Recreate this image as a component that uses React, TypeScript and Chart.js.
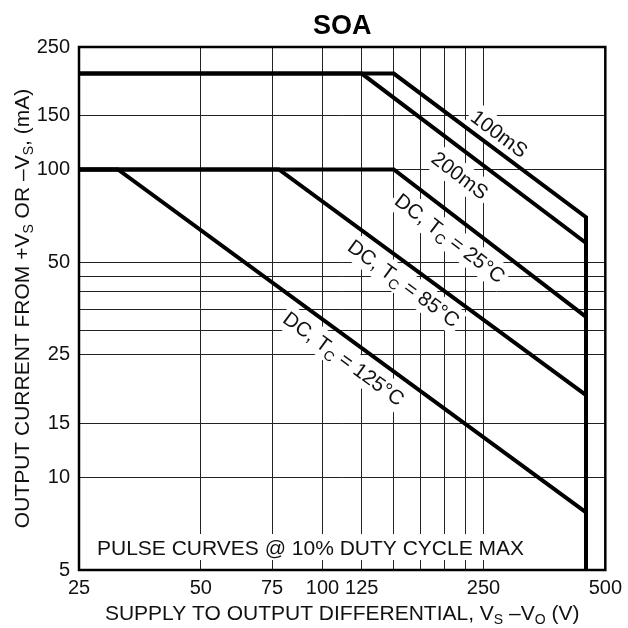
import React, { useEffect, useRef } from "react";
import { Chart, registerables } from "chart.js";

Chart.register(...registerables);

const FONT = '"Liberation Sans", Arial, Helvetica, sans-serif';

// Axis grid / tick values
const xGridValues = [25, 50, 75, 100, 125, 150, 175, 200, 225, 250, 500];
const xTickLabels = [25, 50, 75, 100, 125, 250, 500];
const yGridValues = [5, 10, 15, 25, 30, 35, 40, 45, 50, 100, 150, 250];
const yTickLabels = [5, 10, 15, 25, 50, 100, 150, 250];

// Curves: supply-to-output differential (V) vs output current (mA)
const pulse100V = [25, 150, 448, 448];
const pulse100I = [205, 205, 70, 5];
const pulse200V = [25, 125, 448];
const pulse200I = [205, 205, 57.7];
const dc25V = [25, 150, 448];
const dc25I = [100, 100, 33.2];
const dc85V = [25, 78, 448];
const dc85I = [100, 100, 18.5];
const dc125V = [25, 31.2, 448];
const dc125I = [100, 100, 7.7];

type Seg = { t: string; sub?: boolean };

// Curve annotations (anchor in data units, angle follows the curve's sloped segment)
const curveLabels: { segs: Seg[]; at: [number, number]; v: number[]; i: number[] }[] = [
  { segs: [{ t: "100mS" }], at: [274, 131], v: pulse100V, i: pulse100I },
  { segs: [{ t: "200mS" }], at: [219, 96], v: pulse200V, i: pulse200I },
  { segs: [{ t: "DC, T" }, { t: "C", sub: true }, { t: " = 25°C" }], at: [207, 60], v: dc25V, i: dc25I },
  { segs: [{ t: "DC, T" }, { t: "C", sub: true }, { t: " = 85°C" }], at: [159, 42.8], v: dc85V, i: dc85I },
  { segs: [{ t: "DC, T" }, { t: "C", sub: true }, { t: " = 125°C" }], at: [113, 24.4], v: dc125V, i: dc125I },
];

const titleText = "SOA";
const noteText = "PULSE CURVES @ 10% DUTY CYCLE MAX";
const xTitle: Seg[] = [
  { t: "SUPPLY TO OUTPUT DIFFERENTIAL, V" },
  { t: "S", sub: true },
  { t: " \u2013V" },
  { t: "O", sub: true },
  { t: " (V)" },
];
const yTitle: Seg[] = [
  { t: "OUTPUT CURRENT FROM +V" },
  { t: "S", sub: true },
  { t: " OR \u2013V" },
  { t: "S", sub: true },
  { t: ", (mA)" },
];

function drawRich(
  ctx: CanvasRenderingContext2D,
  segs: Seg[],
  cx: number,
  cy: number,
  angle: number,
  size: number,
  bg: boolean
) {
  ctx.save();
  ctx.translate(cx, cy);
  ctx.rotate(angle);
  const main = `${size}px ${FONT}`;
  const sub = `${Math.round(size * 0.68)}px ${FONT}`;
  let total = 0;
  const widths = segs.map((s) => {
    ctx.font = s.sub ? sub : main;
    const w = ctx.measureText(s.t).width;
    total += w;
    return w;
  });
  if (bg) {
    ctx.fillStyle = "#fff";
    ctx.fillRect(-total / 2 - 3, -size * 0.62, total + 6, size * 1.32);
  }
  ctx.fillStyle = "#111";
  ctx.textBaseline = "alphabetic";
  ctx.textAlign = "left";
  let x = -total / 2;
  segs.forEach((s, k) => {
    ctx.font = s.sub ? sub : main;
    ctx.fillText(s.t, x, s.sub ? size * 0.36 + size * 0.22 : size * 0.36);
    x += widths[k];
  });
  ctx.restore();
}

const pts = (v: number[], i: number[]) => v.map((x, k) => ({ x, y: i[k] }));

const decorPlugin = {
  id: "decor",
  beforeDatasetsDraw(chart: any) {
    const ctx: CanvasRenderingContext2D = chart.ctx;
    const xs = chart.scales.x;
    const ys = chart.scales.y;
    const a = chart.chartArea;
    curveLabels.forEach((l) => {
      const p1x = xs.getPixelForValue(l.v[1]);
      const p1y = ys.getPixelForValue(l.i[1]);
      const p2x = xs.getPixelForValue(l.v[2]);
      const p2y = ys.getPixelForValue(l.i[2]);
      const ang = Math.atan2(p2y - p1y, p2x - p1x);
      drawRich(ctx, l.segs, xs.getPixelForValue(l.at[0]), ys.getPixelForValue(l.at[1]), ang, 20.5, true);
    });
    // pulse note
    ctx.save();
    ctx.font = `21px ${FONT}`;
    const w = ctx.measureText(noteText).width;
    ctx.fillStyle = "#fff";
    ctx.fillRect(a.left + 14, a.bottom - 36, w + 8, 26);
    ctx.fillStyle = "#111";
    ctx.textBaseline = "alphabetic";
    ctx.fillText(noteText, a.left + 18, a.bottom - 15);
    ctx.restore();
  },
  afterDatasetsDraw(chart: any) {
    const ctx: CanvasRenderingContext2D = chart.ctx;
    const a = chart.chartArea;
    ctx.save();
    ctx.strokeStyle = "#000";
    ctx.lineWidth = 2.5;
    ctx.strokeRect(a.left, a.top, a.right - a.left, a.bottom - a.top);
    ctx.restore();
  },
  afterDraw(chart: any) {
    const ctx: CanvasRenderingContext2D = chart.ctx;
    const a = chart.chartArea;
    const cx = (a.left + a.right) / 2;
    ctx.save();
    ctx.font = `bold 27px ${FONT}`;
    ctx.fillStyle = "#000";
    ctx.textAlign = "center";
    ctx.textBaseline = "alphabetic";
    ctx.fillText(titleText, cx, 34);
    ctx.restore();
    drawRich(ctx, xTitle, cx, 612, 0, 21, false);
    drawRich(ctx, yTitle, 21, (a.top + a.bottom) / 2, -Math.PI / 2, 21, false);
  },
};

export default function App() {
  const ref = useRef<HTMLCanvasElement | null>(null);
  useEffect(() => {
    if (!ref.current) return;
    const ds = (v: number[], i: number[]) => ({
      data: pts(v, i),
      showLine: true,
      borderColor: "#000",
      backgroundColor: "#000",
      borderWidth: 4,
      pointRadius: 0,
      fill: false,
      tension: 0,
      borderJoinStyle: "miter" as const,
    });
    const tickFont = { size: 20, family: FONT };
    const chart = new Chart(ref.current, {
      type: "scatter",
      data: {
        datasets: [
          ds(pulse100V, pulse100I),
          ds(pulse200V, pulse200I),
          ds(dc25V, dc25I),
          ds(dc85V, dc85I),
          ds(dc125V, dc125I),
        ],
      },
      options: {
        animation: false,
        responsive: false,
        layout: { padding: { top: 47, right: 21, left: 0, bottom: 0 } },
        plugins: { legend: { display: false }, tooltip: { enabled: false }, title: { display: false } },
        scales: {
          x: {
            type: "logarithmic",
            min: 25,
            max: 500,
            afterBuildTicks: (s: any) => {
              s.ticks = xGridValues.map((v) => ({ value: v }));
            },
            afterFit: (s: any) => {
              s.height = 58;
            },
            ticks: {
              callback: (v: any) => (xTickLabels.includes(Number(v)) ? String(v) : ""),
              autoSkip: false,
              maxRotation: 0,
              minRotation: 0,
              font: tickFont,
              color: "#111",
              padding: 6,
            },
            grid: { color: "#222", lineWidth: 1, drawTicks: false },
            border: { display: false },
          },
          y: {
            type: "logarithmic",
            min: 5,
            max: 250,
            afterBuildTicks: (s: any) => {
              s.ticks = yGridValues.map((v) => ({ value: v }));
            },
            afterFit: (s: any) => {
              s.width = 79;
            },
            ticks: {
              callback: (v: any) => (yTickLabels.includes(Number(v)) ? String(v) : ""),
              autoSkip: false,
              font: tickFont,
              color: "#111",
              padding: 9,
            },
            grid: { color: "#222", lineWidth: 1, drawTicks: false },
            border: { display: false },
          },
        },
      },
      plugins: [decorPlugin],
    } as any);
    return () => chart.destroy();
  }, []);
  return (
    <div style={{ position: "fixed", left: 0, top: 0, width: 628, height: 628, background: "#fff" }}>
      <canvas ref={ref} width={628} height={628} style={{ display: "block" }} />
    </div>
  );
}
